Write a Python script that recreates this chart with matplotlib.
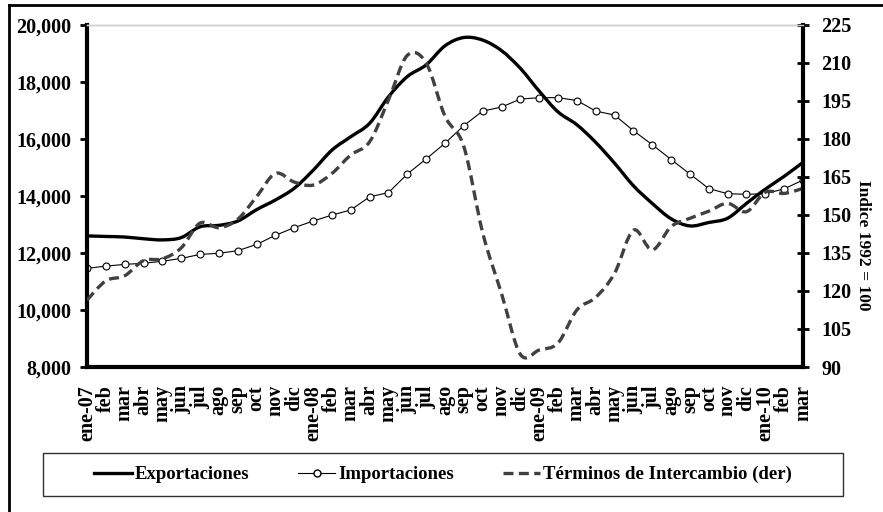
import numpy as np
import matplotlib.pyplot as plt
from matplotlib.path import Path
from matplotlib.patches import PathPatch, Rectangle
from matplotlib.lines import Line2D
from matplotlib.ticker import FuncFormatter

plt.rcParams['font.family'] = ['Liberation Serif', 'DejaVu Serif']
plt.rcParams['font.weight'] = 'bold'

meses = ['ene-07', 'feb', 'mar', 'abr', 'may', 'jun', 'jul', 'ago', 'sep', 'oct', 'nov', 'dic',
         'ene-08', 'feb', 'mar', 'abr', 'may', 'jun', 'jul', 'ago', 'sep', 'oct', 'nov', 'dic',
         'ene-09', 'feb', 'mar', 'abr', 'may', 'jun', 'jul', 'ago', 'sep', 'oct', 'nov', 'dic',
         'ene-10', 'feb', 'mar']

# millones US$ (eje izq.)
exportaciones = [12600, 12580, 12560, 12500, 12460, 12540, 12920, 12970, 13120, 13520,
                 13860, 14270, 14900, 15610, 16080, 16550, 17480, 18190, 18600, 19270,
                 19560, 19470, 19100, 18480, 17680, 16950, 16500, 15880, 15150, 14360,
                 13740, 13200, 12950, 13070, 13220, 13740, 14240, 14690, 15180]
importaciones = [11460, 11540, 11600, 11640, 11710, 11810, 11950, 11990, 12080, 12300,
                 12620, 12890, 13120, 13330, 13510, 13970, 14120, 14770, 15300, 15850,
                 16470, 16980, 17120, 17400, 17450, 17450, 17350, 16980, 16840, 16290,
                 15800, 15280, 14770, 14260, 14080, 14060, 14080, 14250, 14560]
# indice 1992 = 100 (eje der.)
terminos = [116.4, 124, 126, 132, 132.7, 137, 146.8, 145, 148.3, 157.2,
            166.4, 163, 161.8, 166.4, 173.7, 178.9, 195.4, 213, 210, 189,
            177, 143, 119, 95, 96.7, 99.5, 112.5, 117.5, 127, 144,
            136.2, 145.4, 148.7, 151.5, 154.6, 151.3, 159, 158.5, 160.5]


def smooth_path(xs, ys):
    # linea suavizada tipo Excel (Bezier cubica)
    pts = np.column_stack([xs, ys]).astype(float)
    n = len(pts)
    verts = [pts[0]]
    codes = [Path.MOVETO]
    for i in range(n - 1):
        p0 = pts[max(i - 1, 0)]
        p1 = pts[i]
        p2 = pts[i + 1]
        p3 = pts[min(i + 2, n - 1)]
        verts += [p1 + (p2 - p0) / 6, p2 - (p3 - p1) / 6, p2]
        codes += [Path.CURVE4] * 3
    return Path(verts, codes)


fig = plt.figure(figsize=(8.83, 5.12), dpi=100)
ax = fig.add_axes([0.0985, 0.2832, 0.8109, 0.668])
ax2 = ax.twinx()

x = np.arange(len(meses))
ax.add_patch(PathPatch(smooth_path(x, exportaciones), fill=False, edgecolor='black', lw=2.4))
ax.plot(x, importaciones, color='black', lw=0.8, marker='o', ms=5,
        mfc='white', mec='black', mew=0.8)
ax2.add_patch(PathPatch(smooth_path(x, terminos), fill=False, edgecolor='#404040',
                        lw=2.4, linestyle=(0, (3, 1.6))))

ax.set_xlim(0, 38)
ax.set_ylim(8000, 20000)
ax2.set_ylim(90, 225)

ax.set_xticks(x, meses, rotation=90)
ax.tick_params(axis='x', which='major', length=0, pad=13, labelsize=14.5)
ax.set_xticks(range(0, 37, 6), minor=True)
ax.tick_params(axis='x', which='minor', length=8, width=2, direction='inout')

ax.set_yticks(range(8000, 20001, 2000))
ax.yaxis.set_major_formatter(FuncFormatter(lambda v, p: f'{int(v):,}'))
ax.tick_params(axis='y', length=5, width=2, direction='out', pad=6, labelsize=14.5)
ax2.set_yticks(range(90, 226, 15))
ax2.tick_params(axis='y', length=8, width=2, direction='inout', pad=9, labelsize=14.5)

for a in (ax, ax2):
    a.spines['top'].set_color('#d0d0d0')
    a.spines['top'].set_linewidth(1)
    for s in ('left', 'right', 'bottom'):
        a.spines[s].set_linewidth(3)
ax.spines['right'].set_visible(False)
ax2.spines['left'].set_visible(False)
ax2.spines['bottom'].set_visible(False)

fig.text(863 / 883, 1 - 245 / 512, 'Indice 1992 = 100', rotation=-90,
         ha='center', va='center', fontsize=12.5, fontweight='bold')

# recuadro exterior
fig.add_artist(Line2D([9 / 883, 9 / 883], [0, 1 - 5 / 512], color='black', lw=2))
fig.add_artist(Line2D([9 / 883, 1], [1 - 5 / 512, 1 - 5 / 512], color='black', lw=2))

# leyenda
caja = (43 / 883, 1 - 496 / 512, 800 / 883, 43 / 512)
fig.add_artist(Rectangle(caja[:2], caja[2], caja[3], fill=False,
                         edgecolor='#303030', lw=1, transform=fig.transFigure))
handles = [Line2D([], [], color='black', lw=2.4),
           Line2D([], [], color='black', lw=0.8, marker='o', ms=5, mfc='white', mec='black'),
           Line2D([], [], color='#404040', lw=2.4, linestyle=(0, (3, 1.6)))]
labels = ['Exportaciones', 'Importaciones', 'Términos de Intercambio (der)']
fig.legend(handles, labels, loc='center', bbox_to_anchor=caja,
           ncol=3, frameon=False, fontsize=13.5, handlelength=2.0, handletextpad=0.15,
           columnspacing=2.6, borderpad=0, borderaxespad=0)

fig.savefig('out.png', dpi=100)
